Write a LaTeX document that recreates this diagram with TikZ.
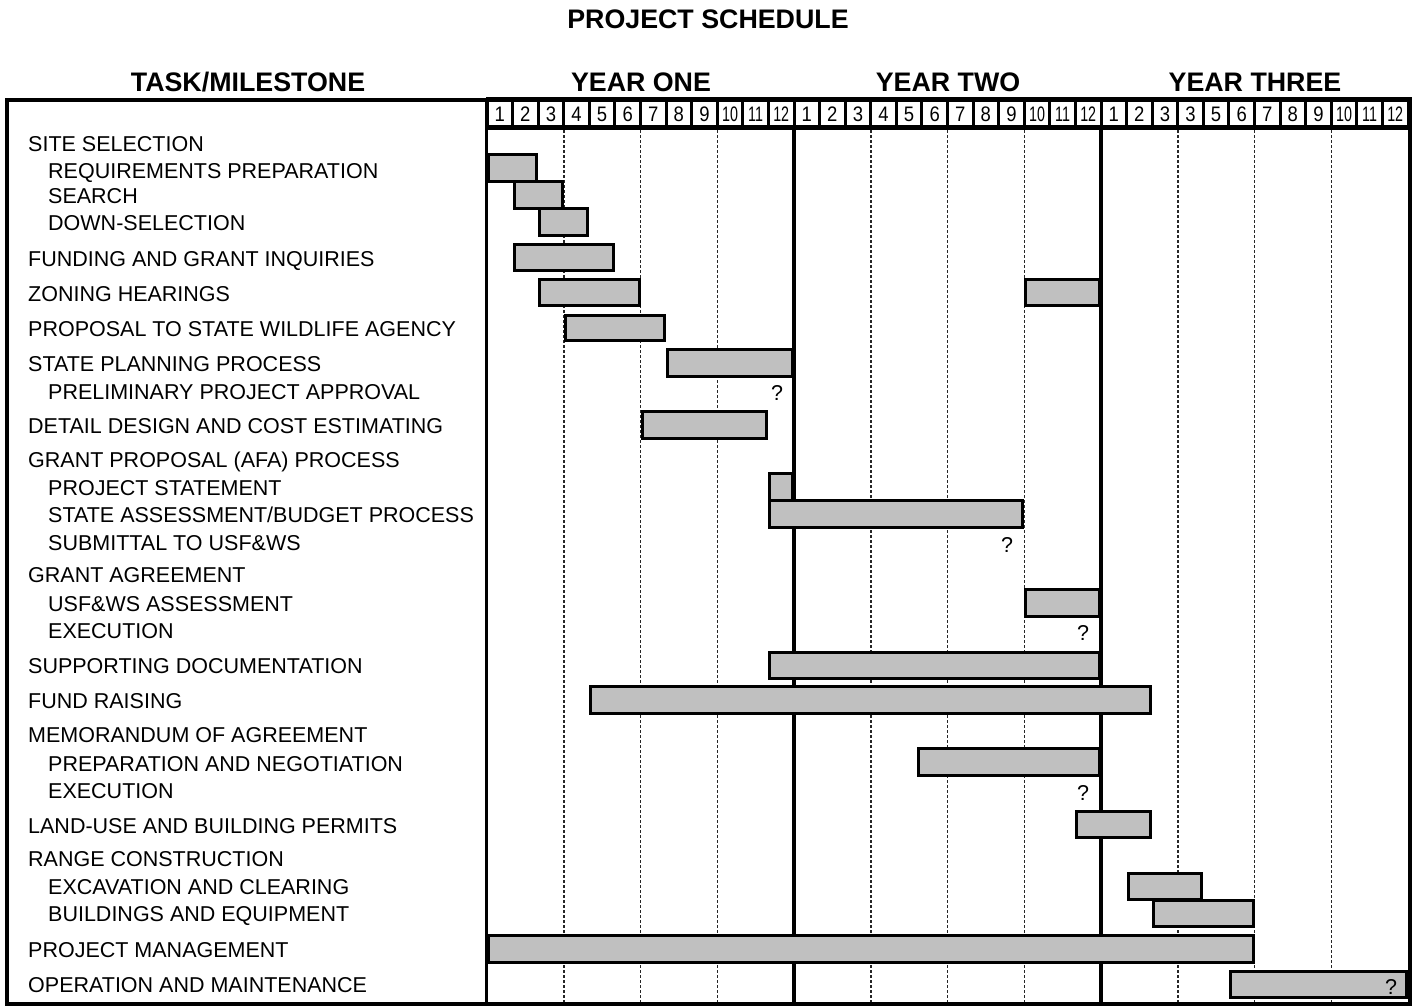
\documentclass[tikz,border=0pt]{standalone}
\usepackage{fontspec}
\setmainfont{Liberation Sans}
\definecolor{barGray}{RGB}{192,192,192}
\begin{document}
\begin{tikzpicture}[x=1pt,y=-1pt,
  lbl/.style={anchor=base west,inner sep=0pt,font=\fontsize{21.5}{25}\selectfont},
  hdr/.style={anchor=base,inner sep=0pt,font=\bfseries\fontsize{26.8}{30}\selectfont},
  qm/.style={anchor=base,inner sep=0pt,font=\fontsize{21.5}{25}\selectfont},
  mnum/.style={anchor=base,inner sep=0pt,font=\fontsize{21}{25}\selectfont},
  ganttbar/.style={draw=black,line width=3pt,fill=barGray},
  frameline/.style={draw=black,line width=4pt},
  qline/.style={line width=1.5pt,draw=black!85,dash pattern=on 3pt off 2pt},
  yearline/.style={draw=black,line width=4pt}]
\useasboundingbox (0,0) rectangle (1417,1007);
\def\mw{25.5833}
% titles
\node[hdr] (title) at (708,28) {PROJECT SCHEDULE};
\node[hdr] (htask) at (248,91) {TASK/MILESTONE};
\node[hdr] (hy1) at (641,91) {YEAR ONE};
\node[hdr] (hy2) at (948,91) {YEAR TWO};
\node[hdr] (hy3) at (1255,91) {YEAR THREE};
% header row
\fill[black] (486,97) rectangle (1412,130);
\foreach \t [count=\i from 0] in {1,2,3,4,5,6,7,8,9,10,11,12,1,2,3,4,5,6,7,8,9,10,11,12,1,2,3,3,5,6,7,8,9,10,11,12}{
  \pgfmathsetmacro\s{ifthenelse(\t>9,0.68,0.88)}
  \fill[white] ({487+\mw*\i+1.5},102) rectangle ({487+\mw*(\i+1)-1.5},125);
  \node[mnum] (m\i) at ({487+\mw*(\i+0.5)},121) {\scalebox{\s}[1]{\t}};
}
% dashed quarter lines
\foreach \m in {3,6,9,15,18,21,27,30,33}{
  \draw[qline] ({487+\mw*\m},130) -- ({487+\mw*\m},1002);
}
% year dividers
\draw[yearline] (794,128) -- (794,1004);
\draw[yearline] (1101,128) -- (1101,1004);
% bars
\foreach \a/\b/\t/\u in {0/2/153/183,1/3/180/210,2/4/207/237,1/5/243/272,2/6/278/307,21/24/278/307,3/7/314/342,7/12/348/378,6/11/410/440,11/12/472/502,11/21/499/529,21/24/588/618,11/24/651/680,4/26/685/715,16.8/24/747/777,23/26/810/839,25/28/872/901,26/30/899/928,0/30/934/964,29/36/970/999}{
  \draw[ganttbar] ({487+\mw*\a+1.5},{\t+1.5}) rectangle ({487+\mw*\b-1.5},{\u-1.5});
}
% question marks
\node[qm] (q1) at (777,400) {?};
\node[qm] (q2) at (1007,552) {?};
\node[qm] (q3) at (1083,640) {?};
\node[qm] (q4) at (1083,800) {?};
\node[qm] (q5) at (1391,994) {?};
% labels
\node[lbl] (l1) at (28,151.5) {SITE SELECTION};
\node[lbl] (l2) at (48,178.5) {REQUIREMENTS PREPARATION};
\node[lbl] (l3) at (48,203.5) {SEARCH};
\node[lbl] (l4) at (48,230.5) {DOWN-SELECTION};
\node[lbl] (l5) at (28,266.5) {FUNDING AND GRANT INQUIRIES};
\node[lbl] (l6) at (28,301.5) {ZONING HEARINGS};
\node[lbl] (l7) at (28,336.5) {PROPOSAL TO STATE WILDLIFE AGENCY};
\node[lbl] (l8) at (28,371.5) {STATE PLANNING PROCESS};
\node[lbl] (l9) at (48,399.5) {PRELIMINARY PROJECT APPROVAL};
\node[lbl] (l10) at (28,433.5) {DETAIL DESIGN AND COST ESTIMATING};
\node[lbl] (l11) at (28,467.5) {GRANT PROPOSAL (AFA) PROCESS};
\node[lbl] (l12) at (48,495.5) {PROJECT STATEMENT};
\node[lbl] (l13) at (48,522.5) {STATE ASSESSMENT/BUDGET PROCESS};
\node[lbl] (l14) at (48,550.5) {SUBMITTAL TO USF\&WS};
\node[lbl] (l15) at (28,582.5) {GRANT AGREEMENT};
\node[lbl] (l16) at (48,611.5) {USF\&WS ASSESSMENT};
\node[lbl] (l17) at (48,638.5) {EXECUTION};
\node[lbl] (l18) at (28,673.5) {SUPPORTING DOCUMENTATION};
\node[lbl] (l19) at (28,708.5) {FUND RAISING};
\node[lbl] (l20) at (28,742.5) {MEMORANDUM OF AGREEMENT};
\node[lbl] (l21) at (48,771.5) {PREPARATION AND NEGOTIATION};
\node[lbl] (l22) at (48,798.5) {EXECUTION};
\node[lbl] (l23) at (28,833.5) {LAND-USE AND BUILDING PERMITS};
\node[lbl] (l24) at (28,866.5) {RANGE CONSTRUCTION};
\node[lbl] (l25) at (48,894.5) {EXCAVATION AND CLEARING};
\node[lbl] (l26) at (48,921.5) {BUILDINGS AND EQUIPMENT};
\node[lbl] (l27) at (28,957.5) {PROJECT MANAGEMENT};
\node[lbl] (l28) at (28,992.5) {OPERATION AND MAINTENANCE};
% frame and divider
\draw[line width=3.5pt] (486.5,99) -- (486.5,1004);
\draw[frameline] (7,99.5) rectangle (1410,1004);
\end{tikzpicture}
\end{document}
